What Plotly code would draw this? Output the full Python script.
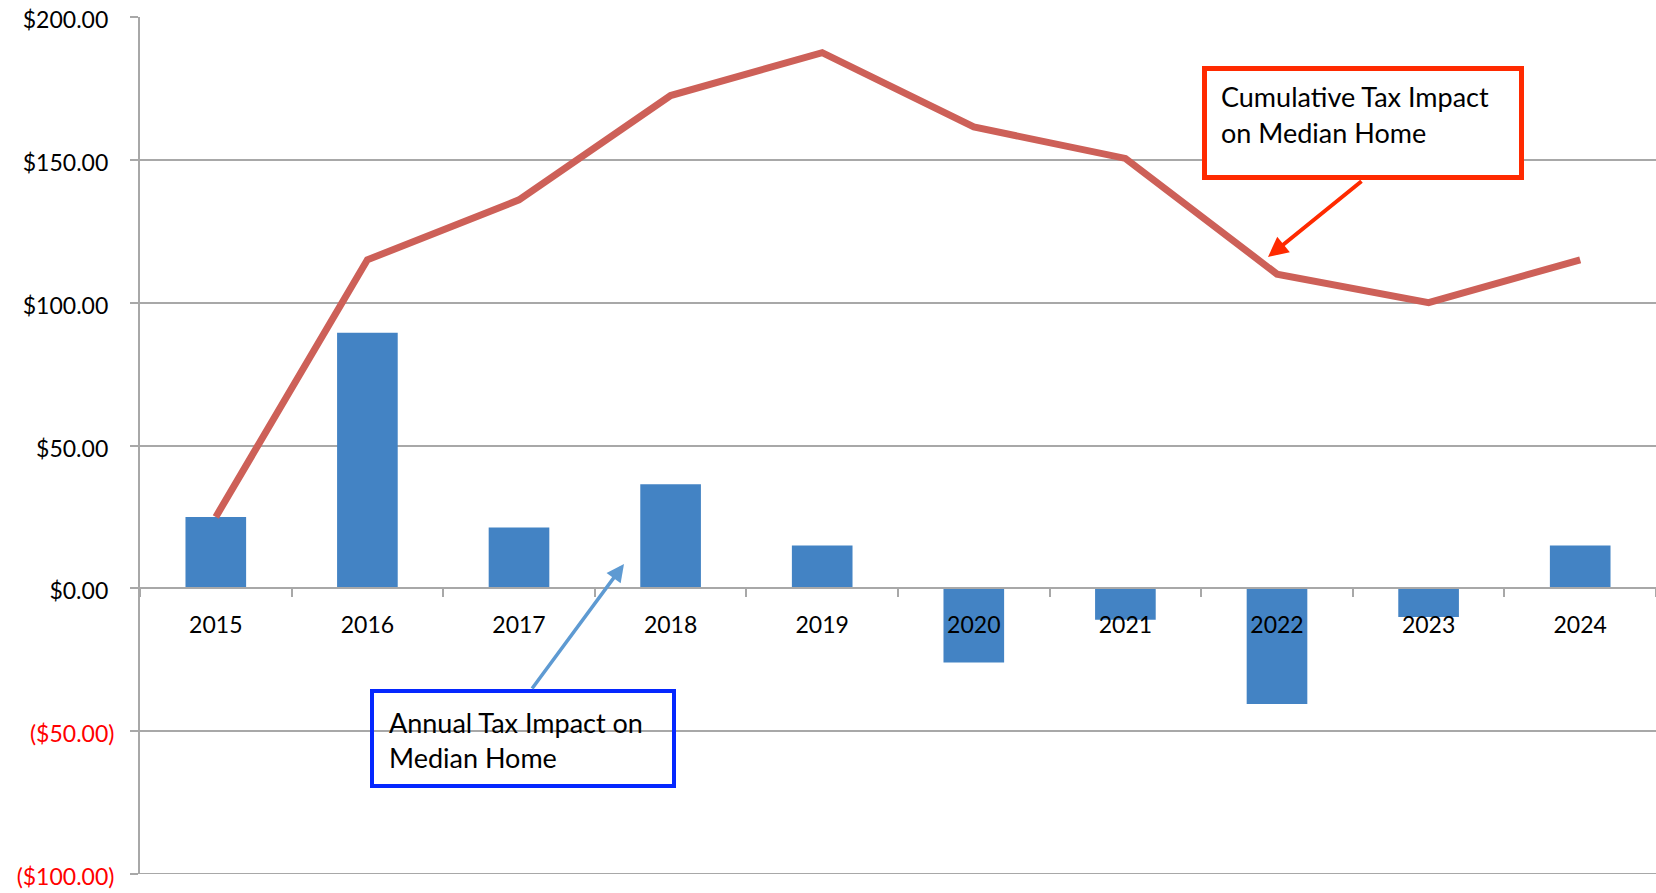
import plotly.graph_objects as go

years = ["2015", "2016", "2017", "2018", "2019", "2020", "2021", "2022", "2023", "2024"]
annual = [25.0, 89.5, 21.3, 36.4, 15.0, -26.0, -11.0, -40.5, -10.0, 15.0]
cumulative = [25.0, 115.0, 136.0, 172.5, 187.5, 161.5, 150.5, 110.0, 100.0, 115.0]

y_tick_vals = [200, 150, 100, 50, 0, -50, -100]
y_tick_text = ["$200.00", "$150.00", "$100.00", "$50.00", "$0.00", "($50.00)", "($100.00)"]
y_tick_text = [
    f'<span style="color:#FF0000">{t}</span>' if t.startswith("(")
    else f'{t}<span style="color:rgba(0,0,0,0)">)</span>'
    for t in y_tick_text
]

FONT = "Lato"
GRID = "#A8A8A8"

fig = go.Figure()
fig.add_trace(go.Bar(x=years, y=annual, width=0.4, marker=dict(color="#4383C4", line=dict(width=0)),
                     name="Annual Tax Impact on Median Home"))
fig.add_trace(go.Scatter(x=years, y=cumulative, mode="lines", line=dict(color="#CD6058", width=7),
                         name="Cumulative Tax Impact on Median Home"))

W, H = 1656, 893
L, R, T, B = 140, 0, 17, 19
pw, ph = W - L - R, H - T - B


def px(x):
    return (x - L) / pw


def py(y):
    return (H - B - y) / ph


shapes = [
    dict(type="line", xref="paper", yref="y", x0=0, x1=1, y0=y_tick_vals[-1], y1=y_tick_vals[-1],
         line=dict(color=GRID, width=2), layer="below"),
    dict(type="rect", xref="paper", yref="paper", x0=px(1204.5), x1=px(1521.5), y0=py(177.5), y1=py(68.5),
         line=dict(color="#FF2A00", width=5), fillcolor="white", layer="above"),
    dict(type="rect", xref="paper", yref="paper", x0=px(372), x1=px(674), y0=py(786), y1=py(691),
         line=dict(color="#0527FF", width=4), fillcolor="rgba(0,0,0,0)", layer="above"),
]

ann_font = dict(family=FONT, size=27, color="black")
annotations = [
    dict(xref="paper", yref="paper", x=px(1219), y=py(97), text="Cumulative Tax Impact", showarrow=False,
         xanchor="left", yanchor="middle", font=ann_font),
    dict(xref="paper", yref="paper", x=px(1219), y=py(132), text="on Median Home", showarrow=False,
         xanchor="left", yanchor="middle", font=ann_font),
    dict(xref="paper", yref="paper", x=px(387), y=py(722), text="Annual Tax Impact on", showarrow=False,
         xanchor="left", yanchor="middle", font=ann_font),
    dict(xref="paper", yref="paper", x=px(387), y=py(757), text="Median Home", showarrow=False,
         xanchor="left", yanchor="middle", font=ann_font),
    dict(xref="paper", yref="paper", x=px(1268), y=py(257), text="", showarrow=True, ax=95, ay=-77,
         arrowcolor="#FF2A00", arrowwidth=4, arrowhead=2, arrowsize=1, standoff=0),
    dict(xref="paper", yref="paper", x=px(624), y=py(564), text="", showarrow=True, ax=-93, ay=126,
         arrowcolor="#5E9AD2", arrowwidth=3.5, arrowhead=2, arrowsize=1, standoff=0),
]

fig.update_layout(
    width=W, height=H,
    margin=dict(l=L, r=R, t=T, b=B, pad=0),
    plot_bgcolor="white", paper_bgcolor="white",
    showlegend=False,
    font=dict(family=FONT, size=23, color="black"),
    shapes=shapes,
    annotations=annotations,
    xaxis=dict(
        type="category", anchor="free", position=1 / 3,
        showline=True, linecolor=GRID, linewidth=2,
        ticks="outside", ticklen=8, tickwidth=2, tickcolor=GRID, tickson="boundaries",
        showgrid=False, zeroline=False,
        tickfont=dict(family=FONT, size=23, color="black"),
        ticklabelstandoff=16,
    ),
    yaxis=dict(
        range=[-100, 200], tickvals=y_tick_vals, ticktext=y_tick_text,
        showline=True, linecolor=GRID, linewidth=2,
        ticks="outside", ticklen=8, tickwidth=2, tickcolor=GRID,
        showgrid=True, gridcolor=GRID, gridwidth=2,
        zeroline=False,
        tickfont=dict(family=FONT, size=23, color="black"),
        ticklabelstandoff=11,
        ticklabelshift=3,
    ),
)

fig.write_html("out.html")
